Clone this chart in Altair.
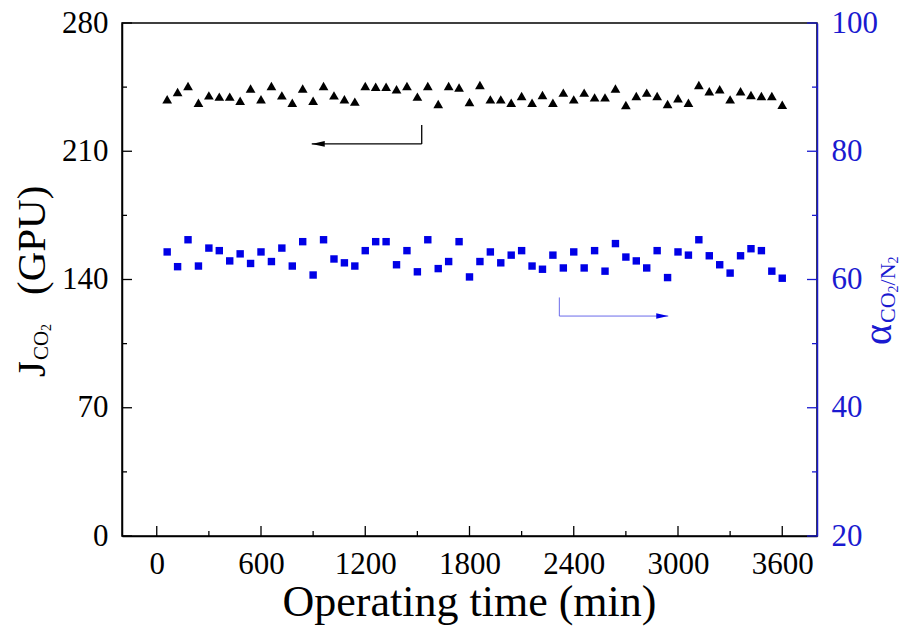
import altair as alt
import pandas as pd

# ---------------- data ----------------
time_min = [60, 120, 180, 240, 300, 360, 420, 480, 540, 600,
            660, 720, 780, 840, 900, 960, 1020, 1080, 1140, 1200,
            1260, 1320, 1380, 1440, 1500, 1560, 1620, 1680, 1740, 1800,
            1860, 1920, 1980, 2040, 2100, 2160, 2220, 2280, 2340, 2400,
            2460, 2520, 2580, 2640, 2700, 2760, 2820, 2880, 2940, 3000,
            3060, 3120, 3180, 3240, 3300, 3360, 3420, 3480, 3540, 3600]

flux_gpu = [238.4, 242.3, 245.6, 236.5, 240.5, 239.8, 239.8, 237.6, 244.3, 238.4,
            245.6, 240.5, 236.5, 244.3, 237.6, 245.6, 240.5, 238.4, 237.1, 245.6,
            245.2, 245.2, 243.8, 245.6, 239.8, 245.6, 235.8, 245.6, 244.8, 236.9,
            246.2, 238.3, 238.3, 236.5, 240.2, 236.5, 240.7, 236.5, 242.0, 238.3,
            242.0, 239.4, 239.4, 244.3, 235.2, 240.2, 242.0, 240.2, 235.8, 238.9,
            236.5, 246.2, 242.7, 243.8, 238.3, 242.7, 240.7, 240.2, 240.2, 235.4]

selectivity = [64.3, 62.0, 66.2, 62.1, 64.9, 64.5, 62.9, 64.0, 62.5, 64.3,
               62.8, 64.9, 62.1, 65.9, 60.7, 66.2, 63.2, 62.6, 62.1, 64.5,
               65.9, 65.9, 62.3, 64.5, 61.2, 66.2, 61.7, 62.8, 65.9, 60.4,
               62.8, 64.3, 62.6, 63.8, 64.5, 62.1, 61.6, 63.8, 61.8, 64.3,
               61.8, 64.5, 61.3, 65.6, 63.5, 62.9, 61.8, 64.5, 60.3, 64.3,
               63.8, 66.2, 63.7, 62.3, 61.0, 63.7, 64.8, 64.5, 61.3, 60.2]

x_major = [0, 600, 1200, 1800, 2400, 3000, 3600]
x_minor = [300, 900, 1500, 2100, 2700, 3300]
yl_major = [0, 70, 140, 210, 280]
yl_minor = [35, 105, 175, 245]
yr_major = [20, 40, 60, 80, 100]
yr_minor = [30, 50, 70, 90]

# annotation arrows (data coordinates)
left_arrow_x = [1525, 1525]
left_arrow_x2 = [1525, 892]
left_arrow_y = [224.3, 214.0]
left_arrow_y2 = [214.0, 214.0]
right_arrow_x = [2317, 2317]
right_arrow_x2 = [2317, 2944]
right_arrow_y = [57.2, 54.3]
right_arrow_y2 = [54.3, 54.3]

# ---------------- styling ----------------
W, H = 695, 513
FONT = "Liberation Serif"
BLUE = "#0000e6"
AXBLUE = "#1a1ad0"

df = pd.DataFrame({"time": time_min, "flux": flux_gpu, "sel": selectivity})

xscale = alt.Scale(domain=[-200, 3800], nice=False, zero=False)
ylscale = alt.Scale(domain=[0, 280], nice=False, zero=False)
yrscale = alt.Scale(domain=[20, 100], nice=False, zero=False)

xaxis = alt.Axis(values=x_major, format="d", ticks=False, labelPadding=13,
                 grid=False, title=None, domainColor="black", domainWidth=1.5,
                 labelColor="black", labelFlush=False)
ylaxis = alt.Axis(values=yl_major, format="d", ticks=False, labelPadding=14,
                  grid=False, title=None, orient="left", domainColor="black",
                  domainWidth=1.5, labelColor="black")
yraxis = alt.Axis(values=yr_major, format="d", ticks=False, labelPadding=14,
                  grid=False, title=None, orient="right", domainColor=AXBLUE,
                  domainWidth=1.5, labelColor=AXBLUE)

X = lambda f: alt.X(f, scale=xscale, axis=xaxis)
YL = lambda f: alt.Y(f, scale=ylscale, axis=ylaxis)
YR = lambda f: alt.Y(f, scale=yrscale, axis=yraxis)

# ---- left group (flux) ----
tri = alt.Chart(df).mark_point(shape="triangle-up", filled=True, size=95,
                               color="black", opacity=1).encode(
    x=X("time:Q"), y=YL("flux:Q"))

xt_major = alt.Chart(pd.DataFrame({"t": x_major})).mark_rule(
    color="black", strokeWidth=1.3).encode(
    x=X("t:Q"), y=alt.value(H), y2=alt.value(H - 10))
xt_minor = alt.Chart(pd.DataFrame({"t": x_minor})).mark_rule(
    color="black", strokeWidth=1.3).encode(
    x=X("t:Q"), y=alt.value(H), y2=alt.value(H - 5))

ylt_major = alt.Chart(pd.DataFrame({"v": yl_major})).mark_rule(
    color="black", strokeWidth=1.3).encode(
    y=YL("v:Q"), x=alt.value(0), x2=alt.value(10))
ylt_minor = alt.Chart(pd.DataFrame({"v": yl_minor})).mark_rule(
    color="black", strokeWidth=1.3).encode(
    y=YL("v:Q"), x=alt.value(0), x2=alt.value(5))

la_df = pd.DataFrame({"x": left_arrow_x, "x2": left_arrow_x2,
                      "y": left_arrow_y, "y2": left_arrow_y2})
left_arrow = alt.Chart(la_df).mark_rule(color="black", strokeWidth=1.3).encode(
    x=X("x:Q"), x2="x2:Q", y=YL("y:Q"), y2="y2:Q")
left_head = alt.Chart(pd.DataFrame({"x": [left_arrow_x2[-1]], "y": [left_arrow_y2[-1]]})).mark_point(
    shape="M-1,0L1,-0.45L1,0.45Z", filled=True, size=169, color="black",
    opacity=1, xOffset=6.5).encode(x=X("x:Q"), y=YL("y:Q"))

left_group = alt.layer(xt_major, xt_minor, ylt_major, ylt_minor,
                       left_arrow, left_head, tri)

# ---- right group (selectivity) ----
sq = alt.Chart(df).mark_point(shape="square", filled=True, size=55,
                              color=BLUE, opacity=1).encode(
    x=X("time:Q"), y=YR("sel:Q"))

yrt_major = alt.Chart(pd.DataFrame({"v": yr_major})).mark_rule(
    color=AXBLUE, strokeWidth=1.3).encode(
    y=YR("v:Q"), x=alt.value(W), x2=alt.value(W - 10))
yrt_minor = alt.Chart(pd.DataFrame({"v": yr_minor})).mark_rule(
    color=AXBLUE, strokeWidth=1.3).encode(
    y=YR("v:Q"), x=alt.value(W), x2=alt.value(W - 5))

ra_df = pd.DataFrame({"x": right_arrow_x, "x2": right_arrow_x2,
                      "y": right_arrow_y, "y2": right_arrow_y2})
right_arrow = alt.Chart(ra_df).mark_rule(color="#6b6bea", strokeWidth=1).encode(
    x=X("x:Q"), x2="x2:Q", y=YR("y:Q"), y2="y2:Q")
right_head = alt.Chart(pd.DataFrame({"x": [right_arrow_x2[-1]], "y": [right_arrow_y2[-1]]})).mark_point(
    shape="M1,0L-1,-0.45L-1,0.45Z", filled=True, size=144, color=BLUE,
    opacity=1, xOffset=-6).encode(x=X("x:Q"), y=YR("y:Q"))

right_group = alt.layer(yrt_major, yrt_minor, right_arrow, right_head, sq)

# ---- titles (text with subscripts) ----
one = pd.DataFrame({"a": [0]})


def txt(s, x, y, size, color="black", angle=270, align="left"):
    return alt.Chart(one).mark_text(
        font=FONT, fontSize=size, color=color, angle=angle, align=align,
        baseline="alphabetic").encode(
        x=alt.value(x), y=alt.value(y), text=alt.value(s))


titles = [
    txt("Operating time (min)", W / 2, 593, 44, angle=0, align="center"),
    # left: J_CO2 (GPU)
    txt("J", -77, 354, 41),
    txt("CO", -74, 337, 21),
    txt("2", -71, 308, 14),
    txt("(GPU)", -77, 272, 41),
    # right: alpha_CO2/N2
    txt("\u03b1", 769, 322, 40, color=AXBLUE),
    txt("CO", 773, 300, 22, color=AXBLUE),
    txt("2", 776, 269.4, 14, color=AXBLUE),
    txt("/", 773, 262.4, 22, color=AXBLUE),
    txt("N", 773, 256.3, 22, color=AXBLUE),
    txt("2", 776, 240.4, 14, color=AXBLUE),
]

chart = alt.layer(left_group, right_group, *titles).resolve_scale(
    y="independent"
).properties(
    width=W, height=H,
    autosize=alt.AutoSizeParams(type="none"),
    padding={"left": 114, "top": 15, "right": 83, "bottom": 100},
).configure_view(
    stroke="black", strokeWidth=1.5
).configure_axis(
    labelFont=FONT, labelFontSize=31
)

chart.save("out.html", embed_options={"renderer": "svg", "actions": False})
